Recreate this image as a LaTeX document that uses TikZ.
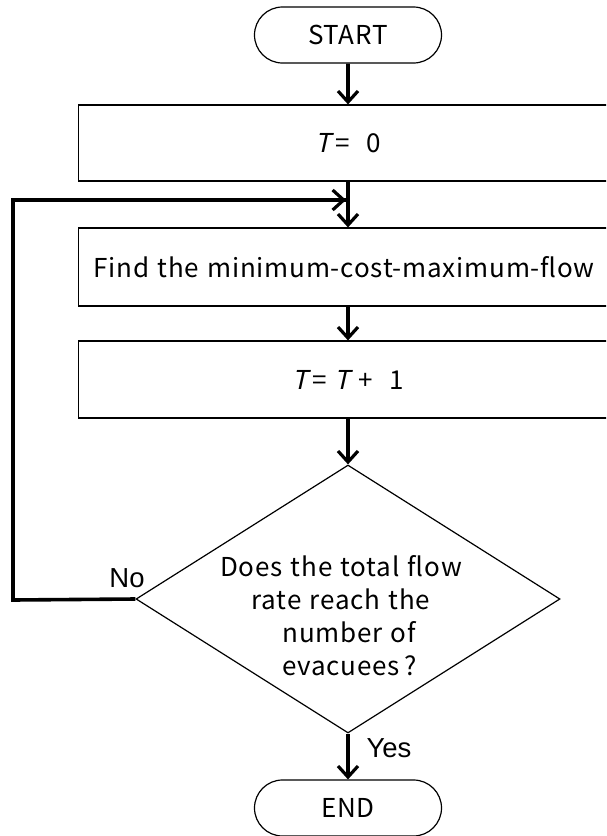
\documentclass[tikz,border=0pt]{standalone}
\usepackage{fontspec}
\setmainfont[LetterSpace=3,WordSpace=1.25]{Noto Sans CJK JP}
\newfontfamily\slantfont[FakeSlant=0.22]{Noto Sans CJK JP}
\newfontfamily\labelfont{Liberation Sans}
\usetikzlibrary{shapes.geometric,shapes.misc,arrows.meta}
\newcommand{\varT}{{\slantfont T}}
\begin{document}
\begin{tikzpicture}[x=1pt,y=-1pt,
  every node/.style={font=\fontsize{26}{33}\selectfont},
  terminal/.style={draw,line width=1.2pt,rounded rectangle,minimum width=187pt,minimum height=56pt,inner sep=0pt},
  procbox/.style={draw,line width=1.2pt,rectangle,minimum width=539pt,inner sep=0pt},
  decision/.style={draw,line width=1.2pt,diamond,minimum width=424pt,minimum height=268pt,inner sep=0pt},
  flow/.style={line width=3.6pt,-{Straight Barb[length=11pt,width=20pt,line width=3.2pt]}},
  feedback/.style={line width=3.6pt,line join=miter},
  branch/.style={font=\labelfont\fontsize{27.5}{30}\selectfont}]
\useasboundingbox (0,0) rectangle (606,836);
\clip (0,0) rectangle (606,836);
\node[terminal] (start) at (348,35) {START};
\node[procbox,minimum height=76pt] (init) at (348,143) {\varT\,= \ 0};
\node[procbox,minimum height=78pt] (mcmf) at (348,267) {\hspace*{-8pt}Find the minimum-cost-maximum-flow};
\node[procbox,minimum height=77pt] (incr) at (348,379.5) {\varT\,= \varT\ + \ 1};
\node[decision] (check) at (348,599) {};
\node[align=center] (qtext) at (341,616) {Does the total flow\\rate reach the\\\ \ number of\\\ \ evacuees\,?};
\node[terminal] (finish) at (348,808) {END};
\coordinate (merge) at (348,200);
\coordinate (loopbottom) at (13,600);
\coordinate (looptop) at (13,200);
\draw[flow] (start) -- (init);
\draw[line width=3.6pt] (init) -- (merge);
\draw[flow] (merge) -- (mcmf);
\draw[flow] (mcmf) -- (incr);
\draw[flow] (incr) -- (check);
\draw[flow] (check) -- (finish);
\draw[feedback] (check.west) -- (loopbottom) -- (looptop) -- ([xshift=-2pt]merge);
\draw[flow] (200,200) -- ([xshift=-2pt]merge);
\node[branch] (nolabel) at (127,578) {No};
\node[branch] (yeslabel) at (389,748) {Yes};
\end{tikzpicture}
\end{document}
